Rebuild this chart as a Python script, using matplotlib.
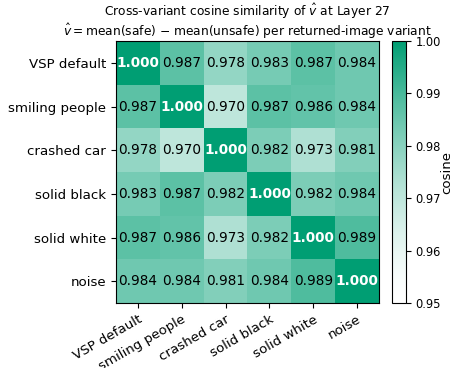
import numpy as np
import matplotlib
matplotlib.use("Agg")
import matplotlib.pyplot as plt
from matplotlib.colors import LinearSegmentedColormap

variants = ["VSP default", "smiling people", "crashed car",
            "solid black", "solid white", "noise"]

sim = np.array([
    [1.000, 0.987, 0.978, 0.983, 0.987, 0.984],
    [0.987, 1.000, 0.970, 0.987, 0.986, 0.984],
    [0.978, 0.970, 1.000, 0.982, 0.973, 0.981],
    [0.983, 0.987, 0.982, 1.000, 0.982, 0.984],
    [0.987, 0.986, 0.973, 0.982, 1.000, 0.989],
    [0.984, 0.984, 0.981, 0.984, 0.989, 1.000],
])

vmin, vmax = 0.95, 1.00
cmap = LinearSegmentedColormap.from_list("wg", ["#ffffff", "#009E73"], gamma=1.5)

fig = plt.figure(figsize=(4.53, 3.68), dpi=100)
ax = fig.add_axes([116 / 453, 1 - 303 / 368, 263 / 453, 262 / 368])
cax = fig.add_axes([392 / 453, 1 - 303 / 368, 14 / 453, 262 / 368])

im = ax.imshow(sim, cmap=cmap, vmin=vmin, vmax=vmax, aspect="auto")

n = len(variants)
for i in range(n):
    for j in range(n):
        if i == j:
            ax.text(j, i, f"{sim[i, j]:.3f}", ha="center", va="center",
                    color="white", fontsize=9.8, fontweight="bold")
        else:
            ax.text(j, i, f"{sim[i, j]:.3f}", ha="center", va="center",
                    color="black", fontsize=9.8)

ax.set_xticks(range(n))
ax.set_yticks(range(n))
ax.set_xticklabels(variants, rotation=30, ha="right", rotation_mode="anchor",
                   fontsize=9.6)
ax.set_yticklabels(variants, fontsize=9.6)
ax.set_title("Cross-variant cosine similarity of $\\hat{v}$ at Layer 27\n"
             "$\\hat{v} = $mean(safe) $-$ mean(unsafe) per returned-image variant",
             fontsize=8.8, pad=2, linespacing=1.05)

cb = fig.colorbar(im, cax=cax)
cb.set_label("cosine", fontsize=9.6, labelpad=-1)
cb.set_ticks([0.95, 0.96, 0.97, 0.98, 0.99, 1.00])
cb.ax.tick_params(labelsize=8.3)

fig.savefig("out.png", dpi=100)
